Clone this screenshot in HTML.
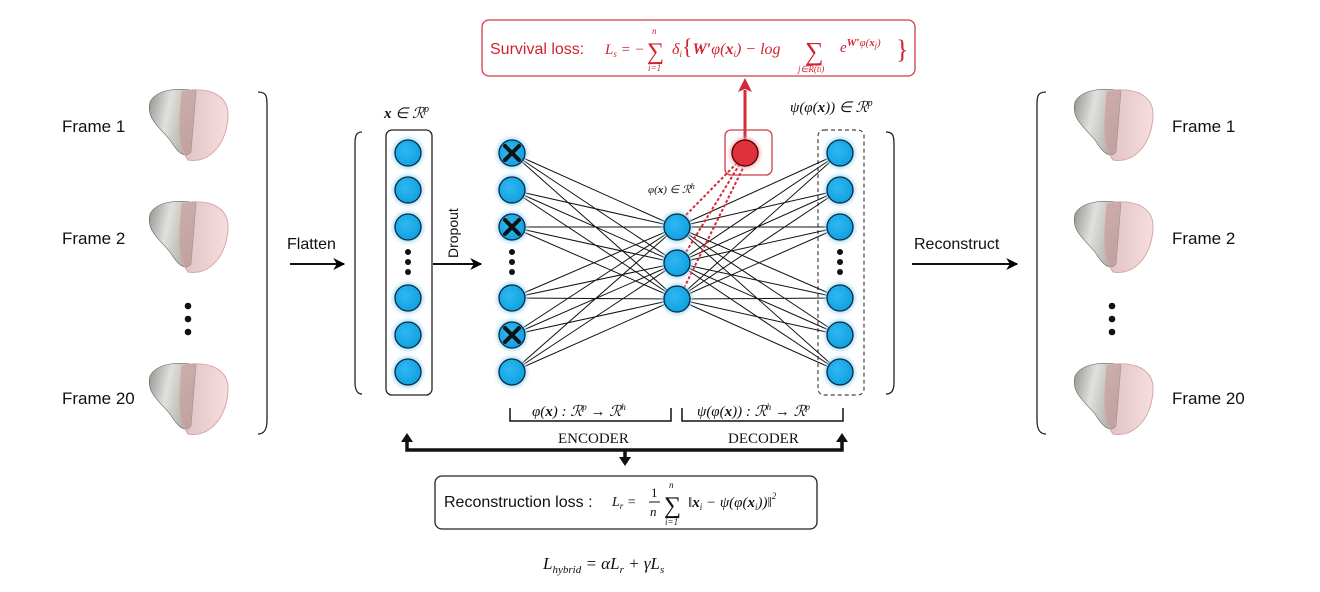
<!DOCTYPE html>
<html><head><meta charset="utf-8"><style>
body{margin:0;background:#fff}
svg{display:block}
text{font-family:"Liberation Sans",sans-serif}
.m{font-family:"Liberation Serif",serif;font-style:italic}
.s{font-family:"Liberation Serif",serif}
</style></head><body>
<svg width="1320" height="592" viewBox="0 0 1320 592" xmlns="http://www.w3.org/2000/svg">
<defs>
<linearGradient id="gg" x1="0" y1="0" x2="1" y2="0.3"><stop offset="0" stop-color="#8e918c"/><stop offset="0.45" stop-color="#e0e1dc"/><stop offset="1" stop-color="#a9aba5"/></linearGradient>
<linearGradient id="pg" x1="0" y1="0" x2="1" y2="0"><stop offset="0" stop-color="#c99597"/><stop offset="1" stop-color="#f0c8c9"/></linearGradient>
<radialGradient id="bg" cx="0.4" cy="0.4" r="0.7"><stop offset="0" stop-color="#2fb8f2"/><stop offset="1" stop-color="#0c9ee0"/></radialGradient>
<filter id="gl" x="-50%" y="-50%" width="200%" height="200%"><feGaussianBlur stdDeviation="2"/></filter>
<g id="heart">
<path d="M4,14 C10,2 30,-1 50,3 L45,64 C38,72 30,62 24,52 C12,38 0,30 4,14Z" fill="url(#gg)" stroke="#666" stroke-width="0.6"/>
<path d="M36,4 C56,-2 82,4 82,26 C82,52 66,76 42,72 C30,56 34,30 36,4Z" fill="url(#pg)" fill-opacity="0.6" stroke="#d9a5a7" stroke-width="1"/>
</g>
<g id="n"><circle r="15" fill="#9fd6f2" filter="url(#gl)"/><circle r="13" fill="url(#bg)" stroke="#0a2a40" stroke-width="1.3"/></g>
<marker id="ar" viewBox="0 0 10 10" refX="9" refY="5" markerWidth="6" markerHeight="6" orient="auto"><path d="M0,0 L10,5 L0,10 L3,5Z" fill="#000"/></marker>
</defs>

<!-- survival loss -->
<rect x="482" y="20" width="433" height="56" rx="7" fill="#fff" stroke="#d23a45" stroke-width="1.3"/>
<text x="490" y="54" font-size="16" fill="#d0232f">Survival loss:</text>
<text x="605" y="54" font-size="15" class="m" fill="#d0232f">L<tspan font-size="9" dy="3">s</tspan><tspan dy="-3"> = −</tspan></text>
<text x="647" y="59" font-size="24" class="s" fill="#d0232f">∑</text>
<text x="652" y="34" font-size="9" class="m" fill="#d0232f">n</text>
<text x="648" y="71" font-size="9" class="m" fill="#d0232f">i=1</text>
<text x="672" y="54" font-size="16" class="m" fill="#d0232f">δ<tspan font-size="9" dy="3">i</tspan><tspan dy="-3" font-style="normal" font-size="22">{</tspan><tspan font-weight="bold">W′</tspan>φ(<tspan font-weight="bold">x</tspan><tspan font-size="9" dy="3">i</tspan><tspan dy="-3">) − log</tspan></text>
<text x="805" y="60" font-size="26" class="s" fill="#d0232f">∑</text>
<text x="798" y="72" font-size="9" class="m" fill="#d0232f">j∈R(t<tspan font-size="7">i</tspan>)</text>
<text x="840" y="52" font-size="15" class="m" fill="#d0232f">e<tspan font-size="11" dy="-6" font-weight="bold">W′</tspan><tspan font-size="11">φ(</tspan><tspan font-size="11" font-weight="bold">x</tspan><tspan font-size="8" dy="2">j</tspan><tspan font-size="11" dy="-2">)</tspan></text>
<text x="896" y="58" font-size="26" class="s" fill="#d0232f">}</text>

<!-- red arrow -->
<line x1="745" y1="148" x2="745" y2="90" stroke="#d52a36" stroke-width="3"/>
<path d="M738,92 L745,78 L752,92 L745,89Z" fill="#d52a36"/>
<rect x="725" y="130" width="47" height="45" rx="6" fill="none" stroke="#d23a45" stroke-width="1.3"/>

<!-- hearts and frames -->
<use href="#heart" x="146" y="88"/><use href="#heart" x="146" y="200"/><use href="#heart" x="146" y="362"/>
<use href="#heart" x="1071" y="88"/><use href="#heart" x="1071" y="200"/><use href="#heart" x="1071" y="362"/>
<g font-size="17" fill="#111">
<text x="62" y="132">Frame 1</text><text x="62" y="244">Frame 2</text><text x="62" y="404">Frame 20</text>
<text x="1172" y="132">Frame 1</text><text x="1172" y="244">Frame 2</text><text x="1172" y="404">Frame 20</text>
</g>
<g fill="#111"><circle cx="188" cy="306" r="3.3"/><circle cx="188" cy="319" r="3.3"/><circle cx="188" cy="332" r="3.3"/>
<circle cx="1112" cy="306" r="3.3"/><circle cx="1112" cy="319" r="3.3"/><circle cx="1112" cy="332" r="3.3"/></g>

<!-- braces -->
<g fill="none" stroke="#222" stroke-width="1.3">
<path d="M258,92 C266,92 267,96 267,104 L267,420 C267,430 264,434 258,434"/>
<path d="M1046,92 C1038,92 1037,96 1037,104 L1037,420 C1037,430 1040,434 1046,434"/>
<path d="M362,132 C356,132 355,136 355,144 L355,382 C355,390 357,394 362,394"/>
<path d="M886,132 C893,132 894,136 894,144 L894,382 C894,390 892,394 886,394"/>
</g>

<!-- arrows -->
<g stroke="#111" stroke-width="2">
<line x1="290" y1="264" x2="344" y2="264" marker-end="url(#ar)"/>
<line x1="433" y1="264" x2="481" y2="264" marker-end="url(#ar)"/>
<line x1="912" y1="264" x2="1017" y2="264" marker-end="url(#ar)"/>
</g>
<text x="287" y="249" font-size="16" fill="#111">Flatten</text>
<text x="914" y="249" font-size="16" fill="#111">Reconstruct</text>
<text transform="translate(458,258) rotate(-90)" font-size="14" fill="#111">Dropout</text>

<!-- input box -->
<rect x="386" y="130" width="46" height="265" rx="6" fill="none" stroke="#222" stroke-width="1.3"/>
<text x="384" y="118" font-size="15" class="m" fill="#111"><tspan font-weight="bold">x</tspan> ∈ ℛ<tspan font-size="10" dy="-6">p</tspan></text>
<rect x="818" y="130" width="46" height="265" rx="6" fill="none" stroke="#444" stroke-width="1.2" stroke-dasharray="4,3"/>
<text x="790" y="112" font-size="15" class="m" fill="#111">ψ(φ(<tspan font-weight="bold">x</tspan>)) ∈ ℛ<tspan font-size="10" dy="-6">p</tspan></text>

<!-- connections -->
<g stroke="#111" stroke-width="1">
<path d="M512,153L677,227M512,153L677,263M512,153L677,299
M512,190L677,227M512,190L677,263M512,190L677,299
M512,227L677,227M512,227L677,263M512,227L677,299
M512,298L677,227M512,298L677,263M512,298L677,299
M512,335L677,227M512,335L677,263M512,335L677,299
M512,372L677,227M512,372L677,263M512,372L677,299
M840,153L677,227M840,153L677,263M840,153L677,299
M840,190L677,227M840,190L677,263M840,190L677,299
M840,227L677,227M840,227L677,263M840,227L677,299
M840,298L677,227M840,298L677,263M840,298L677,299
M840,335L677,227M840,335L677,263M840,335L677,299
M840,372L677,227M840,372L677,263M840,372L677,299"/>
</g>
<g stroke="#d52a36" stroke-width="2" stroke-dasharray="3,2">
<line x1="686" y1="215" x2="738" y2="162"/><line x1="686" y1="252" x2="741" y2="162"/><line x1="684" y1="288" x2="745" y2="164"/>
</g>
<text x="648" y="193" font-size="11" class="m" fill="#111">φ(<tspan font-weight="bold">x</tspan>) ∈ ℛ<tspan font-size="8" dy="-4">h</tspan></text>

<!-- nodes -->
<g>
<use href="#n" x="408" y="153"/><use href="#n" x="408" y="190"/><use href="#n" x="408" y="227"/><use href="#n" x="408" y="298"/><use href="#n" x="408" y="335"/><use href="#n" x="408" y="372"/>
<use href="#n" x="512" y="153"/><use href="#n" x="512" y="190"/><use href="#n" x="512" y="227"/><use href="#n" x="512" y="298"/><use href="#n" x="512" y="335"/><use href="#n" x="512" y="372"/>
<use href="#n" x="677" y="227"/><use href="#n" x="677" y="263"/><use href="#n" x="677" y="299"/>
<use href="#n" x="840" y="153"/><use href="#n" x="840" y="190"/><use href="#n" x="840" y="227"/><use href="#n" x="840" y="298"/><use href="#n" x="840" y="335"/><use href="#n" x="840" y="372"/>
</g>
<circle cx="745" cy="153" r="15" fill="#f3a3a8" filter="url(#gl)"/><circle cx="745" cy="153" r="13" fill="#e0303b" stroke="#400" stroke-width="1.3"/>
<g stroke="#111" stroke-width="4" stroke-linecap="round">
<path d="M505,146L519,160M519,146L505,160M505,220L519,234M519,220L505,234M505,328L519,342M519,328L505,342"/>
</g>
<g fill="#111">
<circle cx="408" cy="252" r="3"/><circle cx="408" cy="262" r="3"/><circle cx="408" cy="272" r="3"/>
<circle cx="512" cy="252" r="3"/><circle cx="512" cy="262" r="3"/><circle cx="512" cy="272" r="3"/>
<circle cx="840" cy="252" r="3"/><circle cx="840" cy="262" r="3"/><circle cx="840" cy="272" r="3"/>
</g>

<!-- encoder/decoder -->
<g fill="none" stroke="#111" stroke-width="1.5">
<path d="M510,408 L510,421 L671,421 L671,408"/>
<path d="M682,408 L682,421 L843,421 L843,408"/>
</g>
<text x="532" y="416" font-size="15" class="m" fill="#111">φ(<tspan font-weight="bold">x</tspan>) : ℛ<tspan font-size="9" dy="-6">p</tspan><tspan dy="6"> → ℛ</tspan><tspan font-size="9" dy="-6">h</tspan></text>
<text x="697" y="416" font-size="15" class="m" fill="#111">ψ(φ(<tspan font-weight="bold">x</tspan>)) : ℛ<tspan font-size="9" dy="-6">h</tspan><tspan dy="6"> → ℛ</tspan><tspan font-size="9" dy="-6">p</tspan></text>
<text x="558" y="443" font-size="15" class="s" fill="#111">ENCODER</text>
<text x="728" y="443" font-size="15" class="s" fill="#111">DECODER</text>
<g stroke="#111" stroke-width="3.5" fill="none"><path d="M407,440 L407,450 L842,450 L842,440"/><line x1="625" y1="450" x2="625" y2="458"/></g>
<path d="M401,442 L407,433 L413,442Z M836,442 L842,433 L848,442Z M619,457 L625,466 L631,457Z" fill="#111"/>

<!-- reconstruction loss -->
<rect x="435" y="476" width="382" height="53" rx="7" fill="#fff" stroke="#222" stroke-width="1.3"/>
<text x="444" y="507" font-size="16" fill="#111">Reconstruction loss :</text>
<text x="612" y="506" font-size="14" class="m" fill="#111">L<tspan font-size="9" dy="3">r</tspan><tspan dy="-3"> =</tspan></text>
<text x="651" y="497" font-size="13" class="s" fill="#111">1</text>
<line x1="649" y1="502" x2="660" y2="502" stroke="#111"/>
<text x="650" y="516" font-size="13" class="m" fill="#111">n</text>
<text x="664" y="513" font-size="24" class="s" fill="#111">∑</text>
<text x="669" y="488" font-size="9" class="m" fill="#111">n</text>
<text x="665" y="525" font-size="9" class="m" fill="#111">i=1</text>
<text x="688" y="507" font-size="15" class="m" fill="#111"><tspan font-style="normal">‖</tspan><tspan font-weight="bold">x</tspan><tspan font-size="9" dy="3">i</tspan><tspan dy="-3"> − ψ(φ(</tspan><tspan font-weight="bold">x</tspan><tspan font-size="9" dy="3">i</tspan><tspan dy="-3">))</tspan><tspan font-style="normal">‖</tspan><tspan font-size="9" dy="-8">2</tspan></text>

<text x="543" y="569" font-size="17" class="m" fill="#111">L<tspan font-size="11" dy="4">hybrid</tspan><tspan dy="-4"> = αL</tspan><tspan font-size="11" dy="4">r</tspan><tspan dy="-4"> + γL</tspan><tspan font-size="11" dy="4">s</tspan></text>
</svg>
</body></html>
